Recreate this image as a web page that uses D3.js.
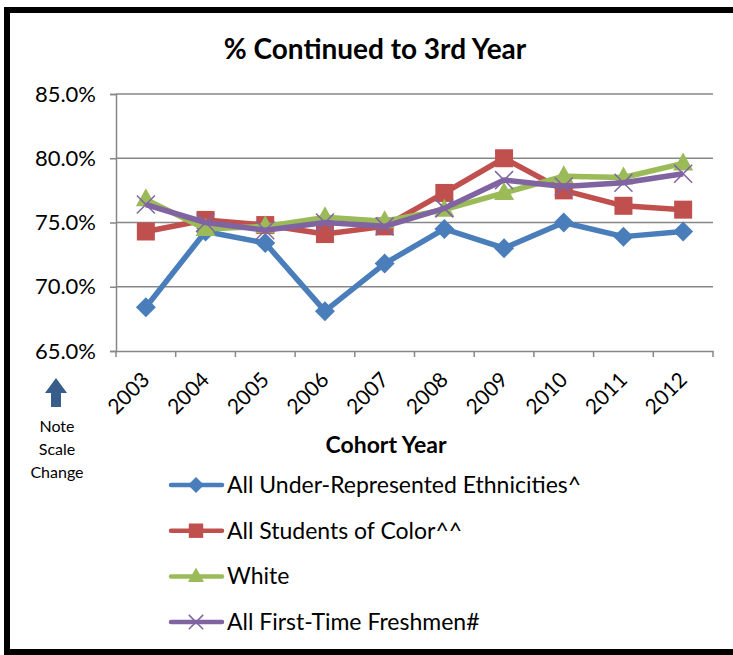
<!DOCTYPE html>
<html>
<head>
<meta charset="utf-8">
<script src="https://cdn.jsdelivr.net/npm/d3@7"></script>
<style>
  body { margin: 0; background: #fff; }
  svg { display: block; font-family: Lato, 'Open Sans', sans-serif; }
</style>
</head>
<body>
<svg id="chart" width="733" height="655"></svg>
<script>
// Chart data
const years = ['2003', '2004', '2005', '2006', '2007', '2008', '2009', '2010', '2011', '2012'];
const underRepresented = [68.4, 74.3, 73.4, 68.1, 71.8, 74.5, 73.0, 75.0, 73.9, 74.3];
const studentsOfColor = [74.3, 75.2, 74.8, 74.1, 74.7, 77.3, 80.0, 77.5, 76.3, 76.0];
const white = [76.8, 74.5, 74.7, 75.4, 75.1, 76.0, 77.3, 78.6, 78.5, 79.6];
const firstTime = [76.4, 75.0, 74.4, 75.0, 74.7, 76.1, 78.3, 77.8, 78.1, 78.8];
const yTicks = [65, 70, 75, 80, 85];

const series = [
  { name: 'All Under-Represented Ethnicities^', values: underRepresented, color: '#4a7ebb', marker: 'diamond' },
  { name: 'All Students of Color^^', values: studentsOfColor, color: '#c0504d', marker: 'square' },
  { name: 'White', values: white, color: '#9bbb59', marker: 'triangle' },
  { name: 'All First-Time Freshmen#', values: firstTime, color: '#8064a2', marker: 'cross' },
];

const svg = d3.select('#chart');
const plot = { left: 116, right: 713, top: 94, bottom: 351 };

// outer frame
svg.append('rect')
  .attr('x', 7).attr('y', 10).attr('width', 740).attr('height', 642)
  .attr('fill', 'none').attr('stroke', '#000').attr('stroke-width', 6);

const x = d3.scaleBand().domain(years).range([plot.left, plot.right]);
const y = d3.scaleLinear().domain([65, 85]).range([plot.bottom, plot.top]);

// title
svg.append('text')
  .attr('x', 375).attr('y', 59)
  .attr('text-anchor', 'middle')
  .attr('font-size', 28).attr('font-weight', 'bold')
  .text('% Continued to 3rd Year');

// gridlines
svg.append('g').selectAll('line').data(yTicks.filter(d => d > 65)).enter()
  .append('line')
  .attr('x1', plot.left).attr('x2', plot.right)
  .attr('y1', d => y(d)).attr('y2', d => y(d))
  .attr('stroke', '#878787').attr('stroke-width', 1.5);

// y axis
const yAxis = svg.append('g')
  .attr('transform', `translate(${plot.left},0)`)
  .call(d3.axisLeft(y).tickValues(yTicks).tickSize(6).tickPadding(14)
    .tickFormat(d => `${d.toFixed(1)}%`));
yAxis.select('.domain').attr('stroke', '#878787').attr('stroke-width', 1.5);
yAxis.selectAll('.tick line').attr('stroke', '#878787').attr('stroke-width', 1.5);
yAxis.selectAll('.tick text').attr('font-size', 22).attr('fill', '#000')
  .attr('font-family', 'Lato, sans-serif');

// x axis
const xAxis = svg.append('g')
  .attr('transform', `translate(0,${plot.bottom})`)
  .call(d3.axisBottom(x).tickSize(0).tickSizeOuter(0));
xAxis.select('.domain').attr('stroke', '#878787').attr('stroke-width', 1.5);
xAxis.selectAll('.tick text')
  .attr('font-size', 21).attr('fill', '#000')
  .attr('font-family', 'Lato, sans-serif')
  .attr('text-anchor', 'end')
  .attr('dy', 0)
  .attr('transform', 'translate(3,28) rotate(-45)');
// tick marks between categories
const bounds = years.map(d => x(d)).concat([plot.right]);
svg.append('g').selectAll('line').data(bounds).enter()
  .append('line')
  .attr('x1', d => d).attr('x2', d => d)
  .attr('y1', plot.bottom).attr('y2', plot.bottom + 6)
  .attr('stroke', '#878787').attr('stroke-width', 1.5);

// x axis title
svg.append('text')
  .attr('x', 386).attr('y', 453)
  .attr('text-anchor', 'middle')
  .attr('font-size', 23).attr('font-weight', 'bold')
  .text('Cohort Year');

// scale change note
svg.append('path')
  .attr('d', 'M56,378 L67,393 L61,393 L61,407 L51,407 L51,393 L45,393 Z')
  .attr('fill', '#385d8a');
svg.append('g').selectAll('text').data(['Note', 'Scale', 'Change']).enter()
  .append('text')
  .attr('x', 57).attr('y', (d, i) => 432 + i * 23)
  .attr('text-anchor', 'middle')
  .attr('font-size', 16)
  .text(d => d);

function drawMarker(g, type, color, k) {
  if (type === 'diamond') {
    g.append('path').attr('d', `M0,${-10 * k} L${10 * k},0 L0,${10 * k} L${-10 * k},0 Z`)
      .attr('fill', color);
  } else if (type === 'square') {
    g.append('rect').attr('x', -9 * k).attr('y', -9 * k)
      .attr('width', 18 * k).attr('height', 18 * k)
      .attr('fill', color);
  } else if (type === 'triangle') {
    g.append('path').attr('d', `M0,${-11 * k} L${10 * k},${7 * k} L${-10 * k},${7 * k} Z`)
      .attr('fill', color);
  } else {
    g.append('path')
      .attr('d', `M${-9 * k},${-9 * k} L${9 * k},${9 * k} M${-9 * k},${9 * k} L${9 * k},${-9 * k}`)
      .attr('stroke', color).attr('stroke-width', 1.5);
  }
}

// lines and markers
const line = d3.line()
  .x((d, i) => x(years[i]) + x.bandwidth() / 2)
  .y(d => y(d));

series.forEach((s) => {
  svg.append('path')
    .datum(s.values)
    .attr('d', line)
    .attr('fill', 'none')
    .attr('stroke', s.color)
    .attr('stroke-width', 5.5)
    .attr('stroke-linejoin', 'round');
  s.values.forEach((v, i) => {
    const g = svg.append('g')
      .attr('transform', `translate(${x(years[i]) + x.bandwidth() / 2},${y(v)})`);
    drawMarker(g, s.marker, s.color, 1);
  });
});

// legend
const legend = svg.append('g');
series.forEach((s, i) => {
  const ly = 485 + i * 45.7;
  legend.append('line')
    .attr('x1', 171).attr('x2', 222).attr('y1', ly).attr('y2', ly)
    .attr('stroke', s.color).attr('stroke-width', 4.5).attr('stroke-linecap', 'round');
  const g = legend.append('g').attr('transform', `translate(196,${ly})`);
  drawMarker(g, s.marker, s.color, 0.8);
  legend.append('text')
    .attr('x', 227).attr('y', ly + 8)
    .attr('font-size', 23)
    .text(s.name);
});
</script>
</body>
</html>
